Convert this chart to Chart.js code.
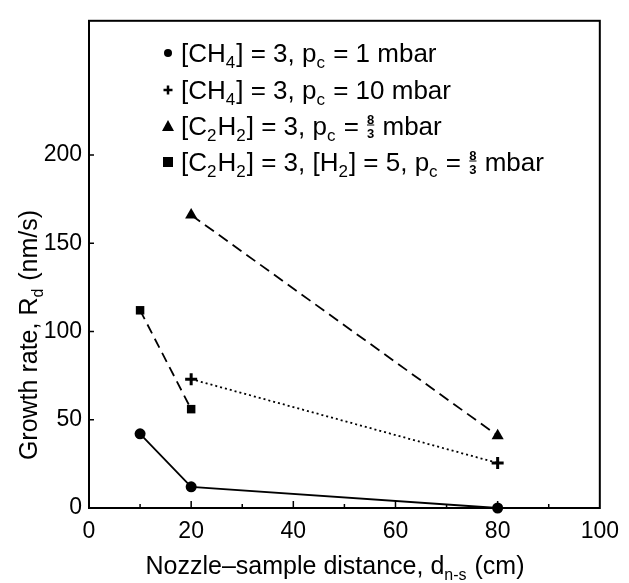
<!DOCTYPE html>
<html>
<head>
<meta charset="utf-8">
<script src="https://cdn.jsdelivr.net/npm/chart.js@4"></script>
<style>
    html, body { margin: 0; padding: 0; background: #fff; }
    #wrap { width: 629px; height: 583px; position: relative; }
</style>
</head>
<body>
<div id="wrap"><canvas id="growthChart"></canvas></div>
<script>
// Data
const ch4LowX = [10, 20, 80];          // [CH4] = 3, pc = 1 mbar
const ch4LowY = [42, 12, 0];
const ch4HighX = [20, 80];             // [CH4] = 3, pc = 10 mbar
const ch4HighY = [73, 25.5];
const c2h2X = [20, 80];                // [C2H2] = 3, pc = 8/3 mbar
const c2h2Y = [166, 41];
const c2h2H2X = [10, 20];              // [C2H2] = 3, [H2] = 5, pc = 8/3 mbar
const c2h2H2Y = [112, 56];

const xTicks = [0, 20, 40, 60, 80, 100];
const xMinorTicks = [10, 30, 50, 70, 90];
const yTicks = [0, 50, 100, 150, 200];

// legend labels: strings are normal text, {sub} is a subscript, {frac} a stacked fraction
const legendLabels = [
    ['[CH', {sub: '4'}, '] = 3, p', {sub: 'c'}, ' = 1 mbar'],
    ['[CH', {sub: '4'}, '] = 3, p', {sub: 'c'}, ' = 10 mbar'],
    ['[C', {sub: '2'}, 'H', {sub: '2'}, '] = 3, p', {sub: 'c'}, ' = ', {frac: ['8', '3']}, ' mbar'],
    ['[C', {sub: '2'}, 'H', {sub: '2'}, '] = 3, [H', {sub: '2'}, '] = 5, p', {sub: 'c'}, ' = ', {frac: ['8', '3']}, ' mbar']
];
const legendStyles = ['circle', 'cross', 'triangle', 'rect'];

const FONT = '"Liberation Sans", Arial, sans-serif';

function toPoints(xs, ys) {
    return xs.map((x, i) => ({ x: x, y: ys[i] }));
}

// draw text with subscripts and fractions, vertically centred on y
function drawRich(ctx, parts, x, y, size) {
    const subSize = Math.round(size * 0.65);
    ctx.textBaseline = 'alphabetic';
    ctx.textAlign = 'left';
    const base = y + size * 0.36;
    parts.forEach(p => {
        if (typeof p === 'string') {
            ctx.font = size + 'px ' + FONT;
            ctx.fillText(p, x, base);
            x += ctx.measureText(p).width;
        } else if (p.sub) {
            ctx.font = subSize + 'px ' + FONT;
            ctx.fillText(p.sub, x, base + size * 0.22);
            x += ctx.measureText(p.sub).width + 1;
        } else if (p.frac) {
            const fs = Math.round(size * 0.5);
            ctx.font = 'bold ' + fs + 'px ' + FONT;
            const w = Math.max(ctx.measureText(p.frac[0]).width, ctx.measureText(p.frac[1]).width);
            ctx.textAlign = 'center';
            ctx.fillText(p.frac[0], x + w / 2 + 1, y - 2);
            ctx.fillText(p.frac[1], x + w / 2 + 1, y + fs - 1);
            ctx.textAlign = 'left';
            ctx.beginPath();
            ctx.lineWidth = 1;
            ctx.moveTo(x + 1, y - 1);
            ctx.lineTo(x + w + 1, y - 1);
            ctx.stroke();
            x += w + 2;
        }
    });
    return x;
}

function richWidth(ctx, parts, size) {
    let w = 0;
    parts.forEach(p => {
        if (typeof p === 'string') { ctx.font = size + 'px ' + FONT; w += ctx.measureText(p).width; }
        else if (p.sub) { ctx.font = Math.round(size * 0.65) + 'px ' + FONT; w += ctx.measureText(p.sub).width + 1; }
        else if (p.frac) { w += size * 0.3 + 2; }
    });
    return w;
}

function drawMarker(ctx, style, cx, cy) {
    ctx.save();
    ctx.fillStyle = '#000';
    ctx.strokeStyle = '#000';
    ctx.beginPath();
    if (style === 'circle') {
        ctx.arc(cx, cy, 4, 0, Math.PI * 2);
        ctx.fill();
    } else if (style === 'cross') {
        ctx.lineWidth = 2.5;
        ctx.moveTo(cx - 4.5, cy); ctx.lineTo(cx + 4.5, cy);
        ctx.moveTo(cx, cy - 4.5); ctx.lineTo(cx, cy + 4.5);
        ctx.stroke();
    } else if (style === 'triangle') {
        ctx.moveTo(cx, cy - 6); ctx.lineTo(cx + 6, cy + 5); ctx.lineTo(cx - 6, cy + 5);
        ctx.closePath();
        ctx.fill();
    } else {
        ctx.rect(cx - 5, cy - 5, 10, 10);
        ctx.fill();
    }
    ctx.restore();
}

const framePlugin = {
    id: 'frame',
    afterDraw(chart) {
        const ctx = chart.ctx;
        const a = chart.chartArea;
        const xs = chart.scales.x, ys = chart.scales.y;
        ctx.save();
        ctx.strokeStyle = '#000';
        ctx.lineWidth = 2;
        ctx.strokeRect(a.left, a.top, a.right - a.left, a.bottom - a.top);

        // inward ticks
        ctx.lineWidth = 1.5;
        ctx.beginPath();
        xTicks.slice(1, -1).forEach(v => {
            const px = xs.getPixelForValue(v);
            ctx.moveTo(px, a.bottom); ctx.lineTo(px, a.bottom - 7);
        });
        xMinorTicks.forEach(v => {
            const px = xs.getPixelForValue(v);
            ctx.moveTo(px, a.bottom); ctx.lineTo(px, a.bottom - 4);
        });
        yTicks.slice(1).forEach(v => {
            const py = ys.getPixelForValue(v);
            ctx.moveTo(a.left, py); ctx.lineTo(a.left + 5, py);
        });
        ctx.stroke();

        // axis titles
        ctx.fillStyle = '#000';
        ctx.strokeStyle = '#000';
        const xTitle = ['Nozzle\u2013sample distance, d', {sub: 'n-s'}, ' (cm)'];
        const w = richWidth(ctx, xTitle, 25);
        drawRich(ctx, xTitle, 335 - w / 2, 565, 25);

        ctx.save();
        ctx.translate(28, 335);
        ctx.rotate(-Math.PI / 2);
        const yTitle = ['Growth rate, R', {sub: 'd'}, ' (nm/s)'];
        const wy = richWidth(ctx, yTitle, 25);
        drawRich(ctx, yTitle, -wy / 2, 0, 25);
        ctx.restore();

        // legend
        const rowY = [53, 90, 126, 162];
        legendLabels.forEach((parts, i) => {
            drawMarker(ctx, legendStyles[i], 168, rowY[i]);
            drawRich(ctx, parts, 181, rowY[i], 26);
        });
        ctx.restore();
    }
};

const ctx = document.getElementById('growthChart').getContext('2d');
new Chart(ctx, {
    type: 'line',
    data: {
        datasets: [
            {
                label: 'CH4 1 mbar',
                data: toPoints(ch4LowX, ch4LowY),
                borderColor: '#000',
                backgroundColor: '#000',
                borderWidth: 1.8,
                pointStyle: 'circle',
                pointRadius: 5.5,
                pointBorderWidth: 0
            },
            {
                label: 'CH4 10 mbar',
                data: toPoints(ch4HighX, ch4HighY),
                borderColor: '#000',
                backgroundColor: '#000',
                borderWidth: 1.8,
                borderDash: [2, 3],
                pointStyle: 'cross',
                pointRadius: 6,
                pointBorderWidth: 3
            },
            {
                label: 'C2H2',
                data: toPoints(c2h2X, c2h2Y),
                borderColor: '#000',
                backgroundColor: '#000',
                borderWidth: 1.8,
                borderDash: [11, 6],
                pointStyle: 'triangle',
                pointRadius: 7,
                pointBorderWidth: 0
            },
            {
                label: 'C2H2 + H2',
                data: toPoints(c2h2H2X, c2h2H2Y),
                borderColor: '#000',
                backgroundColor: '#000',
                borderWidth: 1.8,
                borderDash: [10, 6],
                pointStyle: 'rect',
                pointRadius: 6,
                pointBorderWidth: 0
            }
        ]
    },
    options: {
        responsive: true,
        maintainAspectRatio: false,
        animation: false,
        clip: false,
        layout: { padding: { left: 0, top: 7, right: 18, bottom: 0 } },
        plugins: {
            legend: { display: false },
            tooltip: { enabled: false }
        },
        scales: {
            x: {
                type: 'linear',
                min: 0, max: 100,
                afterFit: s => { s.height = 75; },
                afterBuildTicks: s => { s.ticks = xTicks.map(v => ({ value: v })); },
                grid: { display: false, drawTicks: false },
                border: { display: false },
                ticks: { color: '#000', padding: 10, maxRotation: 0, font: { size: 23, family: FONT } }
            },
            y: {
                type: 'linear',
                min: 0, max: 276,
                afterFit: s => { s.width = 89; },
                afterBuildTicks: s => { s.ticks = yTicks.map(v => ({ value: v })); },
                grid: { display: false, drawTicks: false },
                border: { display: false },
                ticks: { color: '#000', padding: 7, font: { size: 23, family: FONT } }
            }
        }
    },
    plugins: [framePlugin]
});
</script>
</body>
</html>
